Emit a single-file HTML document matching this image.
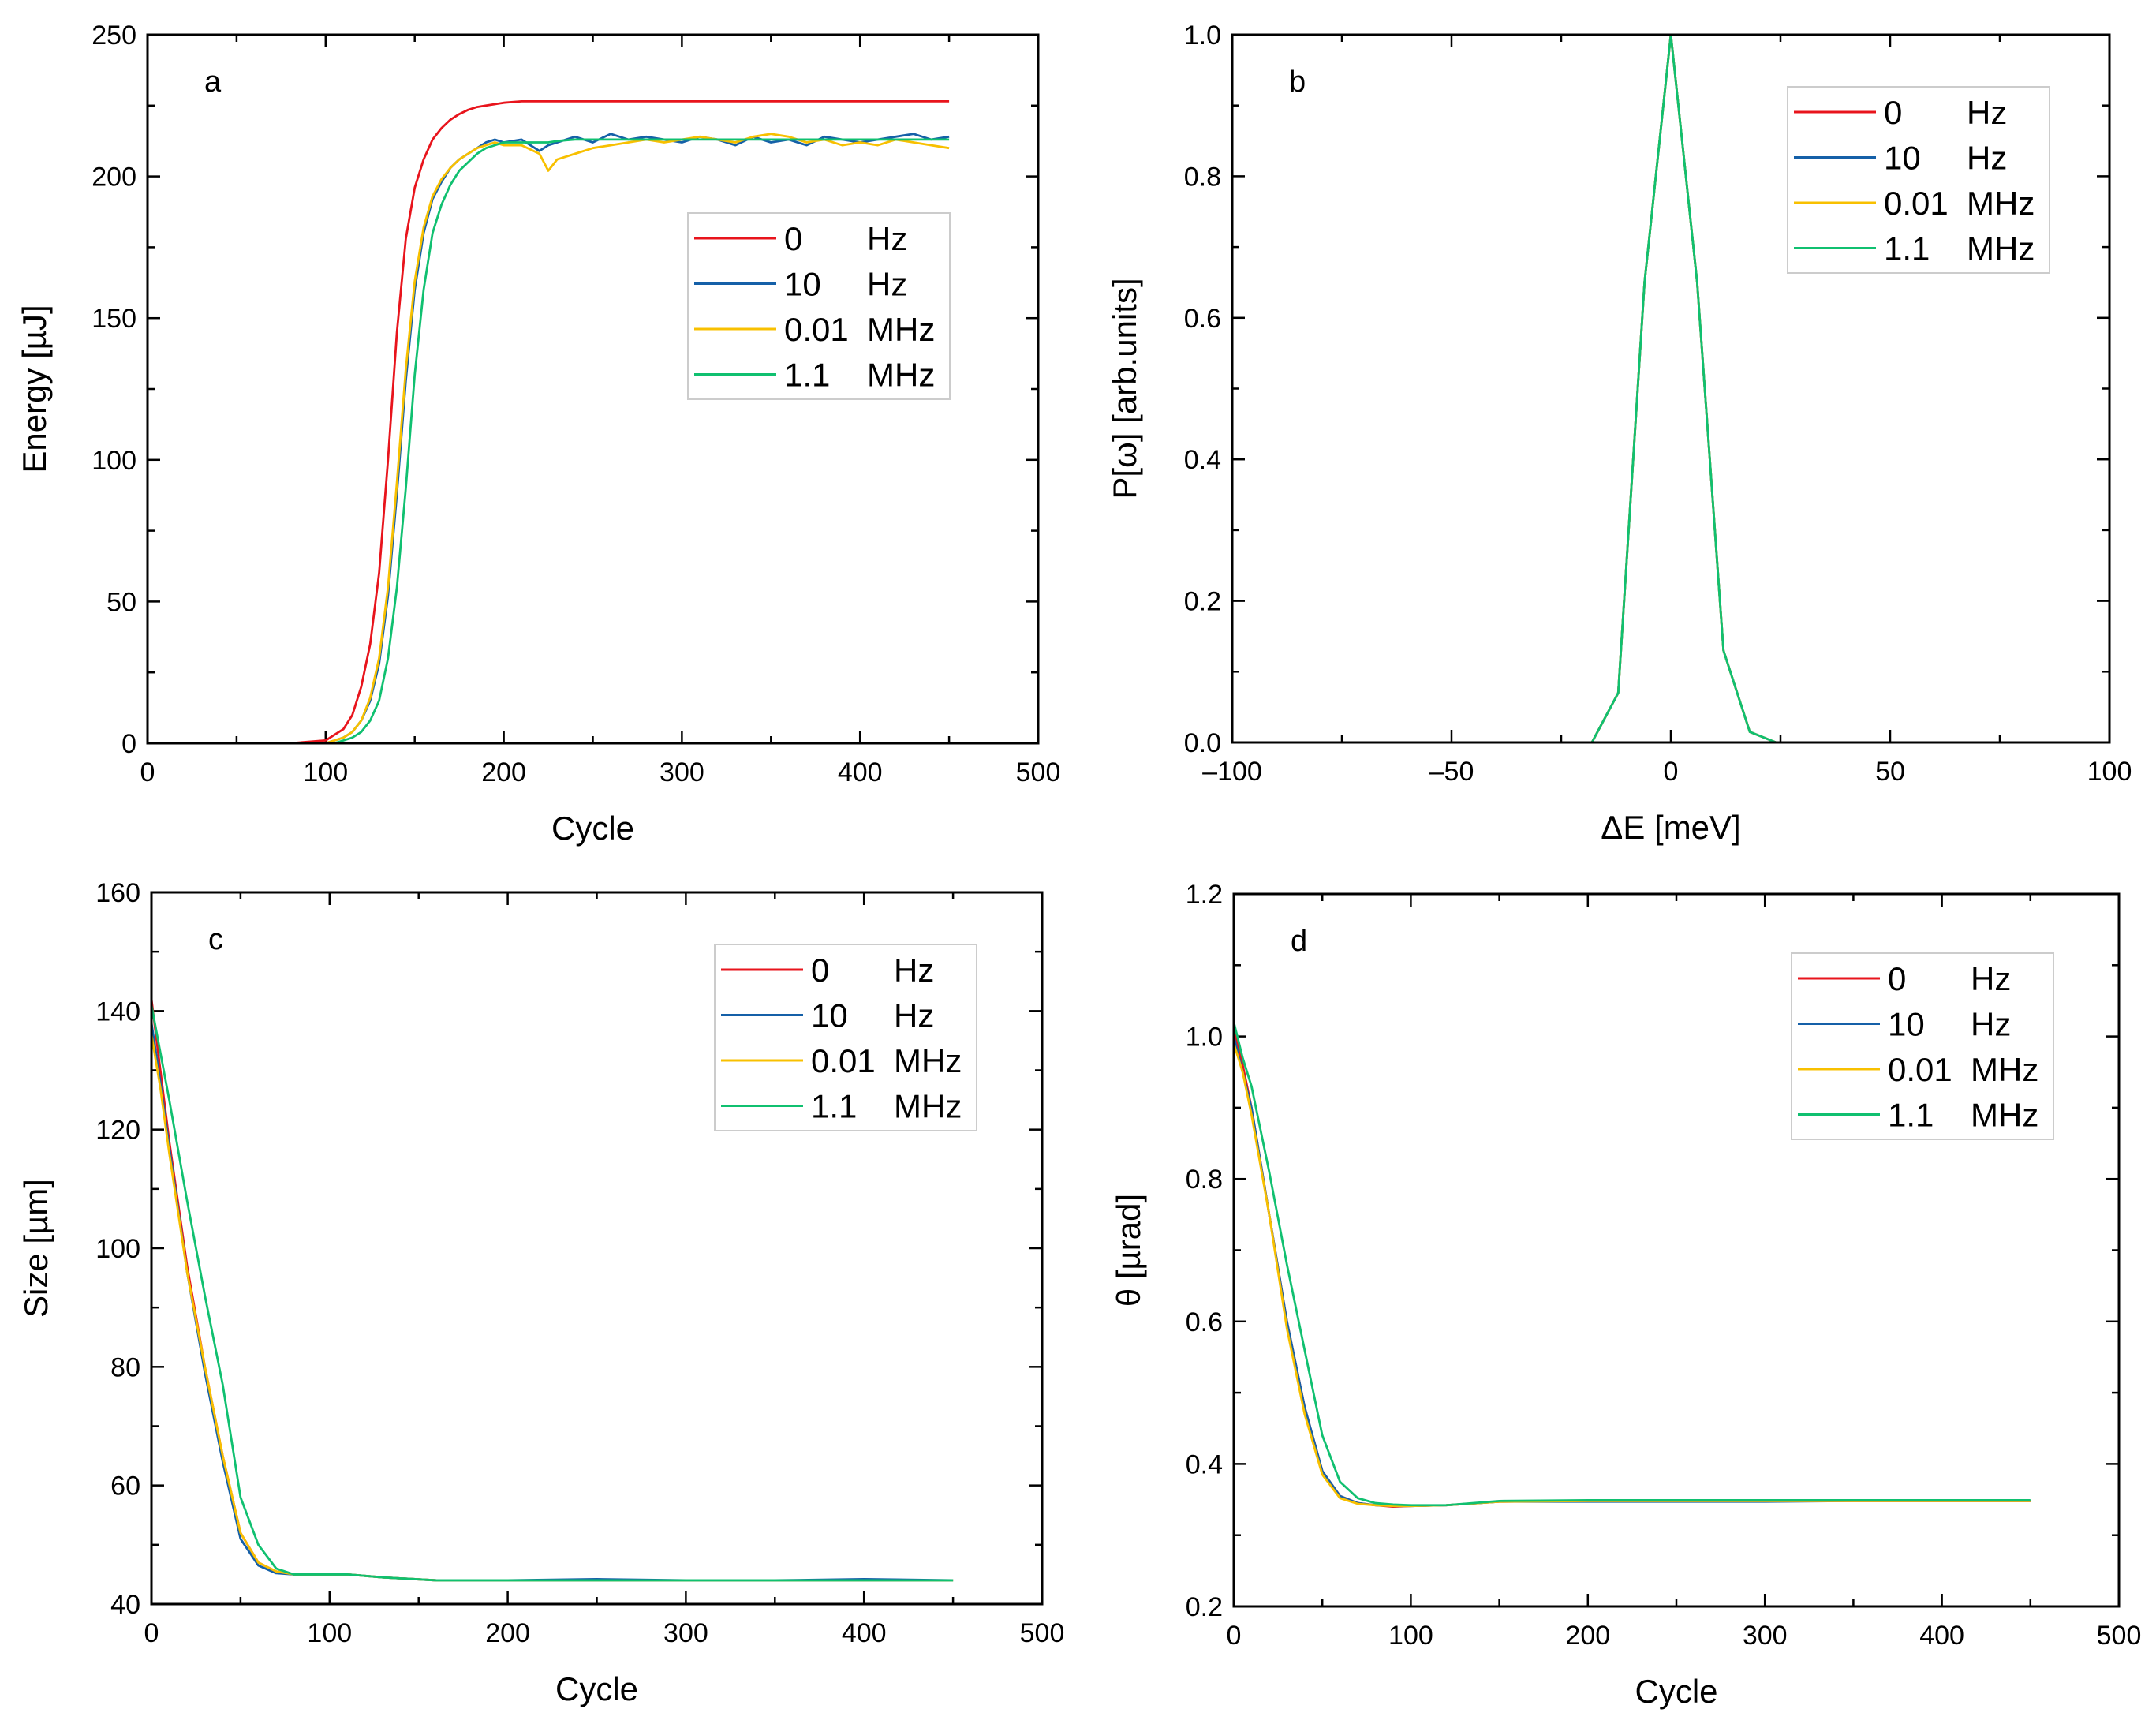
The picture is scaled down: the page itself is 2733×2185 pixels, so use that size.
<!DOCTYPE html>
<html><head><meta charset="utf-8"><style>
html,body{margin:0;padding:0;background:#fff}
svg{display:block}
text{font-family:"Liberation Sans",Arial,sans-serif;fill:#000}
</style></head><body>
<svg id="fig" width="2733" height="2185" viewBox="0 0 2733 2185" xmlns="http://www.w3.org/2000/svg"></svg>
<script>
// ---- Panel a data (Energy vs Cycle) ----
const aCycles   = [0,80,100,105,110,115,120,125,130,135,140,145,150,155,160,165,170,175,180,185,190,195,200,210,220,225,230,240,250,260,270,280,290,300,310,320,330,340,350,360,370,380,390,400,410,420,430,440,450];
const aRed      = [0,0,1,3,5,10,20,35,60,100,145,178,196,206,213,217,220,222,223.5,224.5,225,225.5,226,226.5,226.5,226.5,226.5,226.5,226.5,226.5,226.5,226.5,226.5,226.5,226.5,226.5,226.5,226.5,226.5,226.5,226.5,226.5,226.5,226.5,226.5,226.5,226.5,226.5,226.5];
const aBlue     = [0,0,0,1,2,4,8,15,28,52,88,128,160,180,192,198,203,206,208,210,212,213,212,213,209,211,212,214,212,215,213,214,213,212,214,213,211,214,212,213,211,214,213,212,213,214,215,213,214];
const aYellow   = [0,0,0,1,2,4,8,16,30,55,92,132,163,182,193,199,203,206,208,210,211,212,211,211,208,202,206,208,210,211,212,213,212,213,214,213,212,214,215,214,212,213,211,212,211,213,212,211,210];
const aGreen    = [0,0,0,0,1,2,4,8,15,30,55,90,130,160,180,190,197,202,205,208,210,211,212,212,212,212,212.5,213,213,213,213,213,213,213,213,213,213,213,213,213,213,213,213,213,213,213,213,213,213];
// ---- Panel b data (P vs dE) ----
const bE        = [-100,-18,-12,-6,0,6,12,18,24,100];
const bP        = [0,0,0.07,0.65,1.0,0.65,0.13,0.015,0,0];
// ---- Panel c data (Size vs Cycle) ----
const cCycles   = [0,5,10,20,30,40,50,60,70,80,90,110,130,160,200,250,300,350,400,450];
const cRed      = [142,130,118,97,80,65,52,47,45.5,45,45,45,44.5,44,44,44,44,44,44,44];
const cBlue     = [138,128,117,96,79,64,51,46.5,45.2,45,45,45,44.5,44,44,44.2,44,44,44.2,44];
const cYellow   = [136,127,116,96,80,65,52,47,45.5,45,45,45,44.5,44,44,44,44,44,44,44];
const cGreen    = [141,133,125,108,92,77,58,50,46,45,45,45,44.5,44,44,44,44,44,44,44];
// ---- Panel d data (theta vs Cycle) ----
const dCycles   = [0,5,10,20,30,40,50,60,70,80,90,100,120,150,200,250,300,350,400,450];
const dRed      = [1.01,0.96,0.90,0.75,0.60,0.48,0.39,0.355,0.345,0.342,0.340,0.341,0.342,0.347,0.348,0.348,0.348,0.348,0.348,0.348];
const dBlue     = [1.0,0.95,0.90,0.75,0.60,0.48,0.39,0.355,0.345,0.342,0.341,0.341,0.342,0.347,0.347,0.347,0.347,0.348,0.348,0.348];
const dYellow   = [0.99,0.95,0.89,0.75,0.59,0.47,0.385,0.352,0.344,0.342,0.341,0.341,0.342,0.347,0.348,0.348,0.348,0.348,0.348,0.348];
const dGreen    = [1.02,0.97,0.93,0.81,0.68,0.56,0.44,0.375,0.352,0.345,0.343,0.342,0.342,0.348,0.349,0.349,0.349,0.349,0.349,0.349];
// ---- tick labels ----
const aXTicks = [0,100,200,300,400,500], aYTicks=[0,50,100,150,200,250];
const bXTicks = [-100,-50,0,50,100], bYTicks=[0,0.2,0.4,0.6,0.8,1.0];
const cXTicks = [0,100,200,300,400,500], cYTicks=[40,60,80,100,120,140,160];
const dXTicks = [0,100,200,300,400,500], dYTicks=[0.2,0.4,0.6,0.8,1.0,1.2];
const legendLabels = [["0","Hz"],["10","Hz"],["0.01","MHz"],["1.1","MHz"]];
const colors = ["#e8141c","#1560a8","#f8c000","#10c070"];

const NS="http://www.w3.org/2000/svg";
const svg=document.getElementById('fig');
function mk(tag,attrs,parent){const e=document.createElementNS(NS,tag);for(const k in attrs)e.setAttribute(k,attrs[k]);(parent||svg).appendChild(e);return e;}

function panel(o){
  const g=mk('g',{});
  
  
  const sx=v=>o.x0+(v-o.xmin)/(o.xmax-o.xmin)*(o.x1-o.x0);
  const sy=v=>o.y1-(v-o.ymin)/(o.ymax-o.ymin)*(o.y1-o.y0);
  // ticks
  const tg=mk('g',{stroke:'#000','stroke-width':2.5},g);
  
  
  const xstep=(o.xt[1]-o.xt[0]);
  for(let i=0;i<o.xt.length;i++){
    const v=o.xt[i],x=sx(v);
    mk('line',{x1:x,x2:x,y1:o.y1,y2:o.y1-16},tg);mk('line',{x1:x,x2:x,y1:o.y0,y2:o.y0+16},tg);
    if(i<o.xt.length-1){const m=sx(v+xstep/2);mk('line',{x1:m,x2:m,y1:o.y1,y2:o.y1-9},tg);mk('line',{x1:m,x2:m,y1:o.y0,y2:o.y0+9},tg);}
    const t=mk('text',{x:x,y:o.y1+48,'font-size':34,'text-anchor':'middle'},g);
    
    
    t.textContent=o.xfmt?o.xfmt(v):String(v);
  }
  const ystep=(o.yt[1]-o.yt[0]);
  for(let i=0;i<o.yt.length;i++){
    const v=o.yt[i],y=sy(v);
    mk('line',{y1:y,y2:y,x1:o.x0,x2:o.x0+16},tg);mk('line',{y1:y,y2:y,x1:o.x1,x2:o.x1-16},tg);
    if(i<o.yt.length-1){const m=sy(v+ystep/2);mk('line',{y1:m,y2:m,x1:o.x0,x2:o.x0+9},tg);mk('line',{y1:m,y2:m,x1:o.x1,x2:o.x1-9},tg);}
    const t=mk('text',{x:o.x0-14,y:y+12,'font-size':34,'text-anchor':'end'},g);
    
    
    t.textContent=o.yfmt?o.yfmt(v):String(v);
  }
  // series
  o.series.forEach((s,k)=>{
    const p=mk('polyline',{fill:'none',stroke:colors[k],'stroke-width':2.8,'stroke-linejoin':'round',points:o.xs.map((x,i)=>sx(x)+','+sy(s[i])).join(' ')},g);
    
    
  });
  // frame
  const f=mk('rect',{x:o.x0,y:o.y0,width:o.x1-o.x0,height:o.y1-o.y0,fill:'none',stroke:'#000','stroke-width':3},g);
  
  
  // panel letter
  const L=mk('text',{x:o.x0+72,y:o.y0+72,'font-size':38},g);
  
  
  L.textContent=o.id;
  // axis titles
  const xt=mk('text',{x:(o.x0+o.x1)/2,y:o.y1+122,'font-size':42,'text-anchor':'middle'},g);
  
  
  xt.textContent=o.xtitle;
  const yt=mk('text',{x:0,y:0,'font-size':42,'text-anchor':'middle',transform:`translate(${o.ytx},${(o.y0+o.y1)/2}) rotate(-90)`},g);
  
  
  yt.textContent=o.ytitle;
  // legend
  const lg=mk('g',{},g);
  
  
  mk('rect',{x:o.lx,y:o.ly,width:332,height:236,fill:'#fff',stroke:'#ccc','stroke-width':2},lg);
  legendLabels.forEach((lab,k)=>{
    const y=o.ly+32+k*57.5;
    const e=mk('g',{},lg);
    
    
    mk('line',{x1:o.lx+8,x2:o.lx+112,y1:y,y2:y,stroke:colors[k],'stroke-width':3},e);
    const t1=mk('text',{x:o.lx+122,y:y+15,'font-size':42},e);t1.textContent=lab[0];
    const t2=mk('text',{x:o.lx+227,y:y+15,'font-size':42},e);t2.textContent=lab[1];
  });
}
panel({id:'a',x0:187,x1:1316,y0:44,y1:942,xmin:0,xmax:500,ymin:0,ymax:250,xt:aXTicks,yt:aYTicks,xs:aCycles,series:[aRed,aBlue,aYellow,aGreen],xtitle:'Cycle',ytitle:'Energy [\u00b5J]',ytx:58,lx:872,ly:270});
panel({id:'b',x0:1562,x1:2674,y0:44,y1:941,xmin:-100,xmax:100,ymin:0,ymax:1,xt:bXTicks,yt:bYTicks,xs:bE,series:[bP,bP,bP,bP],xtitle:'\u0394E [meV]',ytitle:'P[\u03c9] [arb.units]',ytx:1440,lx:2266,ly:110,xfmt:v=>v<0?'\u2013'+(-v):String(v),yfmt:v=>v.toFixed(1)});
panel({id:'c',x0:192,x1:1321,y0:1131,y1:2033,xmin:0,xmax:500,ymin:40,ymax:160,xt:cXTicks,yt:cYTicks,xs:cCycles,series:[cRed,cBlue,cYellow,cGreen],xtitle:'Cycle',ytitle:'Size [\u00b5m]',ytx:60,lx:906,ly:1197});
panel({id:'d',x0:1564,x1:2686,y0:1133,y1:2036,xmin:0,xmax:500,ymin:0.2,ymax:1.2,xt:dXTicks,yt:dYTicks,xs:dCycles,series:[dRed,dBlue,dYellow,dGreen],xtitle:'Cycle',ytitle:'\u03b8 [\u00b5rad]',ytx:1445,lx:2271,ly:1208,yfmt:v=>v.toFixed(1)});
</script>
</body></html>
